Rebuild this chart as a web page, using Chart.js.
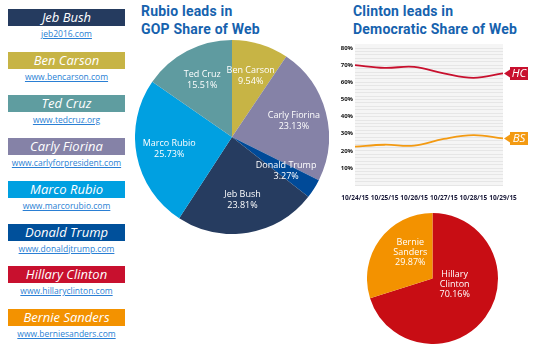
<!DOCTYPE html>
<html>
<head>
<meta charset="utf-8">
<script src="https://cdn.jsdelivr.net/npm/chart.js@4.4.0/dist/chart.umd.min.js"></script>
<style>
  html,body{margin:0;padding:0;background:#fff;width:539px;height:350px;overflow:hidden;font-family:"Open Sans",sans-serif;}
  .box{position:absolute;left:8px;width:117px;height:17px;color:#fff;font-style:italic;font-size:13px;line-height:17px;text-align:center;}
  .link{position:absolute;left:0;width:133px;text-align:center;font-size:8.5px;color:#2a7fd4;text-decoration:underline;line-height:10px;}
  .title{position:absolute;top:2px;color:#1662ae;font-weight:bold;font-size:14px;line-height:18px;font-family:"Liberation Sans Narrow","Roboto",sans-serif;letter-spacing:0.2px;}
  .wrap{position:absolute;}
</style>
</head>
<body>
<div id="legend"></div>
<div class="title" style="left:141px;">Rubio leads in<br>GOP Share of Web</div>
<div class="title" style="left:353px;">Clinton leads in<br>Democratic Share of Web</div>
<div class="wrap" style="left:135px;top:40px;width:194px;height:194px;"><canvas id="gop"></canvas></div>
<div class="wrap" style="left:336px;top:40px;width:203px;height:163px;"><canvas id="line"></canvas></div>
<div class="wrap" style="left:366.5px;top:212.5px;width:131px;height:131px;"><canvas id="dem"></canvas></div>
<script>
// ---- data ----
const legendNames = ['Jeb Bush','Ben Carson','Ted Cruz','Carly Fiorina','Marco Rubio','Donald Trump','Hillary Clinton','Bernie Sanders'];
const legendLinks = ['jeb2016.com','www.bencarson.com','www.tedcruz.org','www.carlyforpresident.com','www.marcorubio.com','www.donaldjtrump.com','www.hillaryclinton.com','www.berniesanders.com'];
const legendColors = ['#253b5f','#c7b445','#5f9da0','#8582a7','#00a0e1','#00509b','#c8102e','#f39200'];

const gopCandidates = ['Ben Carson','Carly Fiorina','Donald Trump','Jeb Bush','Marco Rubio','Ted Cruz'];
const gopShares = [9.54, 23.13, 3.27, 23.81, 25.73, 15.51];
const gopColors = ['#c7b445','#8582a7','#004a98','#263c60','#00a0e1','#5f9ba0'];

const demCandidates = ['Hillary Clinton','Bernie Sanders'];
const demShares = [70.16, 29.87];
const demColors = ['#c80d14','#f39200'];

const dates = ['10/24/15','10/25/15','10/26/15','10/27/15','10/28/15','10/29/15'];
const hcShare = [70.0, 68.4, 69.0, 65.2, 62.6, 65.2];
const bsShare = [22.5, 23.6, 23.1, 27.0, 29.2, 27.3];
const tagLabels = ['HC','BS'];

// ---- legend ----
const leg = document.getElementById('legend');
legendNames.forEach((n,i)=>{
  const top = 9 + i*42.9;
  const b = document.createElement('div');
  b.className='box'; b.style.top = top+'px'; b.style.background = legendColors[i]; b.textContent = n;
  leg.appendChild(b);
  const l = document.createElement('div');
  l.className='link'; l.style.top = (top+20)+'px'; l.textContent = legendLinks[i];
  leg.appendChild(l);
});

// ---- plugins ----
const pieLabels = {
  id:'pieLabels',
  afterDatasetsDraw(chart, args, opts){
    const meta = chart.getDatasetMeta(0);
    const ctx = chart.ctx;
    const labels = chart.data.labels, vals = chart.data.datasets[0].data;
    ctx.save();
    ctx.fillStyle = '#fff';
    ctx.font = opts.font;
    ctx.textAlign='center'; ctx.textBaseline='middle';
    meta.data.forEach((arc,i)=>{
      const p = arc.getProps(['x','y','startAngle','endAngle','outerRadius'], true);
      const mid = (p.startAngle+p.endAngle)/2;
      const r = p.outerRadius*opts.factor;
      const cx = p.x + Math.cos(mid)*r, cy = p.y + Math.sin(mid)*r + (opts.dy||0);
      const lines = opts.split ? labels[i].split(' ') : [labels[i]];
      lines.push(vals[i].toFixed(2)+'%');
      lines.forEach((t,k)=>ctx.fillText(t, cx, cy + (k-(lines.length-1)/2)*opts.lineHeight));
    });
    ctx.restore();
  }
};

const plotBg = {
  id:'plotBg',
  beforeDraw(chart){
    const a = chart.chartArea, ctx = chart.ctx;
    ctx.save(); ctx.fillStyle='#f5f5f5'; ctx.fillRect(a.left, a.top-4, a.right-a.left, a.bottom-a.top+4); ctx.restore();
  }
};

const endTags = {
  id:'endTags',
  afterDatasetsDraw(chart){
    const ctx = chart.ctx;
    chart.data.datasets.forEach((ds,i)=>{
      const meta = chart.getDatasetMeta(i);
      const pt = meta.data[meta.data.length-1];
      const x = pt.x, y = pt.y;
      ctx.save();
      ctx.fillStyle = ds.borderColor;
      ctx.beginPath();
      ctx.moveTo(x+1,y); ctx.lineTo(x+7,y-4); ctx.lineTo(x+7,y-6.5); ctx.lineTo(x+25,y-6.5);
      ctx.lineTo(x+25,y+6.5); ctx.lineTo(x+7,y+6.5); ctx.lineTo(x+7,y+4); ctx.closePath(); ctx.fill();
      ctx.fillStyle='#fff'; ctx.font='italic 11.5px "Open Sans", sans-serif';
      ctx.textAlign='center'; ctx.textBaseline='middle';
      ctx.fillText(tagLabels[i], x+16, y+0.5);
      ctx.restore();
    });
  }
};

const pieOpts = (opts)=>({
  responsive:true, maintainAspectRatio:false, animation:false,
  layout:{padding:0},
  plugins:{legend:{display:false}, tooltip:{enabled:false}, pieLabels:opts},
});

new Chart(document.getElementById('gop'), {
  type:'pie',
  data:{labels:gopCandidates, datasets:[{data:gopShares, backgroundColor:gopColors, borderWidth:0}]},
  options:pieOpts({font:'9px "Open Sans", sans-serif', factor:0.66, lineHeight:11, split:false, dy:0}),
  plugins:[pieLabels]
});

new Chart(document.getElementById('dem'), {
  type:'pie',
  data:{labels:demCandidates, datasets:[{data:demShares, backgroundColor:demColors, borderWidth:0}]},
  options:pieOpts({font:'9px "Open Sans", sans-serif', factor:0.42, lineHeight:10, split:true, dy:-10}),
  plugins:[pieLabels]
});

new Chart(document.getElementById('line'), {
  type:'line',
  data:{labels:dates, datasets:[
    {data:hcShare, borderColor:'#c8102e', borderWidth:1.8, tension:0.4, pointRadius:0, fill:false},
    {data:bsShare, borderColor:'#f39a12', borderWidth:1.8, tension:0.4, pointRadius:0, fill:false}
  ]},
  options:{
    responsive:true, maintainAspectRatio:false, animation:false,
    layout:{padding:{top:8, right:36, left:0, bottom:0}},
    plugins:{legend:{display:false}, tooltip:{enabled:false}},
    scales:{
      x:{
        offset:false,
        grid:{display:false},
        border:{display:false},
        ticks:{font:{size:6.5, weight:'bold', family:'"Open Sans", sans-serif'}, color:'#1b1b3a', maxRotation:0, minRotation:0, autoSkip:false, padding:1}
      },
      y:{
        min:0, max:80,
        grid:{color:'#e6e6e6', lineWidth:1, drawTicks:false},
        border:{display:false},
        ticks:{stepSize:2, autoSkip:false, font:{size:6, weight:'bold', family:'"Open Sans", sans-serif'}, color:'#111',
          padding:2, callback:(v)=> (v%10===0 && v>0) ? v+'%' : ''},
        afterFit(s){ s.width = 19; }
      }
    }
  },
  plugins:[plotBg, endTags]
});
</script>
</body>
</html>
